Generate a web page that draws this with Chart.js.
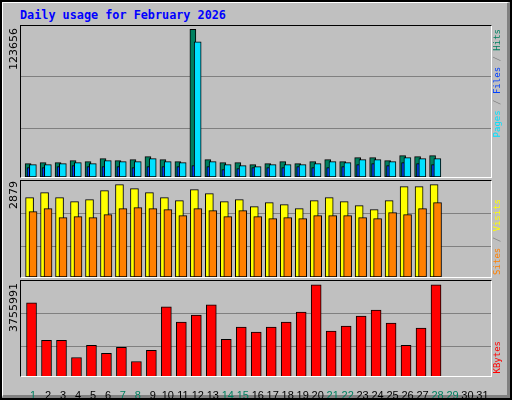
<!DOCTYPE html>
<html>
<head>
<meta charset="utf-8">
<script src="https://cdn.jsdelivr.net/npm/chart.js@4"></script>
<style>
  body { margin: 0; background: #fff; }
  #frame { position: relative; width: 512px; height: 400px; box-sizing: border-box;
    background: #c0c0c0; border: 2px solid #000; }
  #bevel { position: absolute; left: 0; top: 0; right: 0; bottom: 0;
    border-left: 1px solid #fff; border-top: 1px solid #fff;
    border-right: 3px solid #808080; border-bottom: 3px solid #808080; }
  canvas { position: absolute; }
  .box { position: absolute; box-sizing: border-box; border-left: 1px solid #000; border-top: 1px solid #000;
    border-right: 1px solid #fff; border-bottom: 1px solid #fff; pointer-events: none; }
  .title { position: absolute; left: 18px; top: 6px; color: #0000ff; font: bold 11.8px "DejaVu Sans Mono", monospace; }
  .vt { position: absolute; writing-mode: vertical-rl; transform: rotate(180deg); white-space: nowrap; }
  .maxl { font: 11px "DejaVu Sans", sans-serif; color: #000; }
  .side { font: 9px "DejaVu Sans Mono", monospace; color: #808080; }
</style>
</head>
<body>
<div id="frame">
  <div id="bevel"></div>
  <div class="title">Daily usage for February 2026</div>
  <canvas id="c1" width="471" height="152" style="left:18px;top:23px"></canvas>
  <canvas id="c2" width="471" height="96" style="left:18px;top:179px"></canvas>
  <canvas id="c3" width="471" height="117" style="left:18px;top:279px"></canvas>
  <div class="box" style="left:18px;top:23px;width:472px;height:153px"></div>
  <div class="box" style="left:18px;top:178px;width:472px;height:98px"></div>
  <div class="box" style="left:18px;top:278px;width:472px;height:97px"></div>
  <div class="vt maxl" style="left:5px;top:26px">123656</div>
  <div class="vt maxl" style="left:5px;top:179px">2879</div>
  <div class="vt maxl" style="left:5px;top:281px">3755991</div>
  <div class="vt side" style="left:490px;top:27px"><span style="color:#00e0ff">Pages</span> / <span style="color:#0040ff">Files</span> / <span style="color:#008060">Hits</span></div>
  <div class="vt side" style="left:490px;top:197px"><span style="color:#ff8000">Sites</span> / <span style="color:#ffff00">Visits</span></div>
  <div class="vt side" style="left:490px;top:339px"><span style="color:#ff0000">KBytes</span></div>
</div>
<script>
const days = Array.from({ length: 31 }, (_, i) => i + 1);
const weekendDays = [1, 7, 8, 14, 15, 21, 22, 28, 29];

const hits = [11160, 12000, 12000, 13670, 12830, 15350, 13670, 14510, 17020, 14510, 12830, 123656, 14510, 12000,
  12000, 10320, 11160, 12830, 11160, 12830, 14510, 12830, 16180, 16180, 13670, 17860, 17020, 17860];
const files = [10320, 10320, 11160, 12000, 11160, 13670, 12830, 12830, 15350, 12830, 12000, 113270, 12830, 10320,
  9490, 8650, 10320, 10320, 10320, 11160, 12830, 12000, 14510, 14510, 12830, 16180, 15350, 15350];
const pages = [7810, 7810, 8650, 9490, 8650, 8650, 8650, 7810, 8650, 8650, 8650, 9490, 8650, 6140,
  6980, 7810, 7810, 7810, 8650, 7810, 7810, 8650, 10320, 11160, 9490, 12000, 11160, 10320];
const visits = [2473, 2629, 2473, 2348, 2410, 2691, 2879, 2753, 2629, 2473, 2379, 2722, 2598, 2348,
  2410, 2192, 2317, 2255, 2130, 2379, 2473, 2348, 2223, 2099, 2379, 2816, 2816, 2879];
const sites = [2036, 2130, 1849, 1881, 1849, 1943, 2130, 2161, 2130, 2099, 1912, 2130, 2068, 1881,
  2068, 1881, 1818, 1849, 1818, 1912, 1912, 1912, 1849, 1818, 2005, 1943, 2130, 2317];
const kbytes = [3015760, 1494170, 1494170, 795060, 1288550, 959560, 1206300, 630570, 1082930, 2851260, 2234400,
  2522270, 2933510, 1535300, 2028780, 1823160, 2028780, 2234400, 2645640, 3755991, 1864290, 2069910, 2481150,
  2727890, 2193280, 1288550, 1987660, 3755991];

const pts = (vals, off) => vals.map((v, i) => ({ x: days[i] + off, y: v }));
const bar = (label, vals, off, color, thick, order) => ({
  label, data: pts(vals, off), backgroundColor: color, borderColor: '#000', borderWidth: 1,
  borderSkipped: false, barThickness: thick, grouped: false, order
});

function panel(id, datasets, yMax, showDays) {
  new Chart(document.getElementById(id), {
    type: 'bar',
    data: { datasets },
    options: {
      responsive: false, animation: false,
      layout: { padding: 0 },
      plugins: { legend: { display: false }, tooltip: { enabled: false } },
      scales: {
        x: {
          type: 'linear', min: 0.13, max: 31.57, display: showDays, offset: false,
          grid: { display: false }, border: { display: false },
          afterBuildTicks: s => { s.ticks = days.map(d => ({ value: d })); },
          afterFit: s => {
            if (showDays) s.height = 21;
            s.paddingLeft = 0; s.paddingRight = 0;
          },
          ticks: {
            autoSkip: false, maxRotation: 0, padding: 4,
            font: { family: 'Liberation Sans', size: 11 },
            color: c => weekendDays.includes(c.tick.value) ? '#008060' : '#000'
          }
        },
        y: {
          min: 0, max: yMax,
          afterBuildTicks: s => { s.ticks = [{ value: yMax * 0.32 }, { value: yMax * 0.66 }]; },
          afterFit: s => { s.width = 0; },
          ticks: { display: false },
          grid: { color: '#808080', drawTicks: false, lineWidth: 1 },
          border: { display: false }
        }
      }
    }
  });
}

panel('c1', [
  bar('Hits', hits, -0.33, '#008060', 6, 3),
  bar('Pages', pages, -0.3, '#0040ff', 3, 2),
  bar('Files', files, -0.01, '#00e0ff', 7, 1)
], 127256, false);

panel('c2', [
  bar('Visits', visits, -0.23, '#ffff00', 8, 2),
  bar('Sites', sites, 0, '#ff8000', 8, 1)
], 2993, false);

panel('c3', [
  bar('KBytes', kbytes, -0.1, '#ff0000', 10, 1)
], 3906780, true);
</script>
</body>
</html>
